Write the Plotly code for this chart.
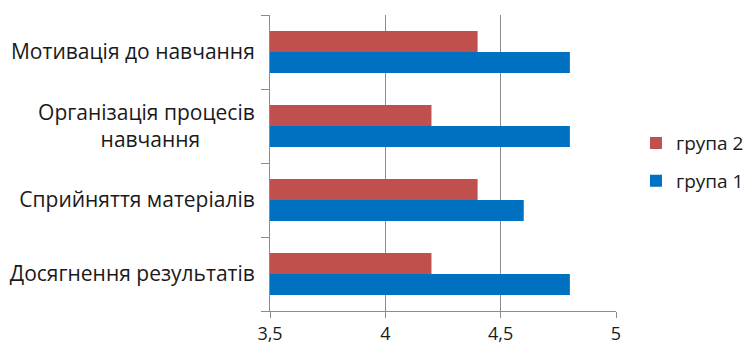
import plotly.graph_objects as go

categories = ["Мотивація до навчання", "Організація процесів<br>навчання" + "\u00a0" * 10,
              "Сприйняття матеріалів", "Досягнення результатів"]
group1 = [4.8, 4.8, 4.6, 4.8]
group2 = [4.4, 4.2, 4.4, 4.2]
tick_vals = [3.5, 4, 4.5, 5]
tick_text = ["3,5", "4", "4,5", "5"]

font_family = "Open Sans, sans-serif"

fig = go.Figure()
fig.add_trace(go.Bar(y=categories, x=group1, orientation="h", name="група 1",
                     legendgroup="g1", legendrank=2,
                     marker=dict(color="#0070C0", line=dict(width=0))))
fig.add_trace(go.Bar(y=categories, x=group2, orientation="h", name="група 2",
                     legendgroup="g2", legendrank=1,
                     marker=dict(color="#C0504D", line=dict(width=0))))

fig.update_layout(
    width=746, height=345,
    margin=dict(l=270, r=130, t=15, b=34),
    paper_bgcolor="white", plot_bgcolor="white",
    barmode="group", bargap=0.43, bargroupgap=0,
    font=dict(family=font_family, size=21, color="#1a1a1a"),
    legend=dict(traceorder="grouped", xref="container", yref="container",
                x=0.8525, y=0.53, yanchor="middle", xanchor="left",
                font=dict(size=19), itemwidth=30,
                tracegroupgap=10, bgcolor="rgba(0,0,0,0)"),
    xaxis=dict(range=[3.5, 5], tickvals=tick_vals, ticktext=tick_text,
               showgrid=True, gridcolor="#8c8c8c", gridwidth=1,
               showline=True, linecolor="#8c8c8c", linewidth=1,
               ticks="outside", ticklen=6, tickcolor="#8c8c8c",
               zeroline=False, tickfont=dict(size=18), automargin=False),
    yaxis=dict(categoryorder="array", categoryarray=categories[::-1],
               showline=True, linecolor="#8c8c8c", linewidth=1,
               ticks="outside", ticklen=8, tickcolor="#8c8c8c",
               tickson="boundaries", showgrid=False, ticklabelstandoff=10,
               automargin=False),
)

fig.write_html("out.html")
